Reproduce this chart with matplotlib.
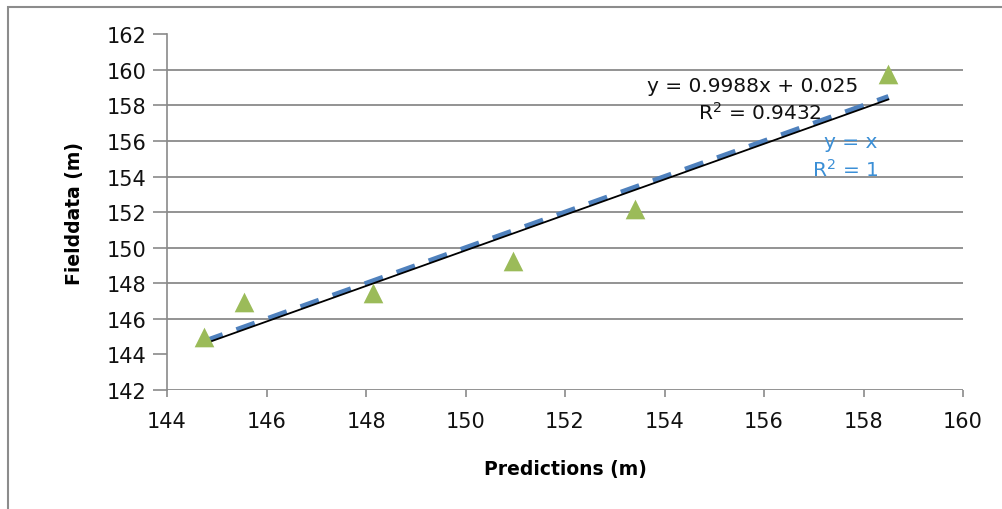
import numpy as np
import matplotlib.pyplot as plt
from matplotlib.patches import Rectangle

# values
predictions = [144.75, 145.55, 148.15, 150.95, 153.4, 158.5]
field_data = [145.0, 146.95, 147.45, 149.25, 152.2, 159.75]
slope, intercept = 0.9988, 0.025
x_ticks = [144, 146, 148, 150, 152, 154, 156, 158, 160]
y_ticks = [142, 144, 146, 148, 150, 152, 154, 156, 158, 160, 162]
grid_levels = [142, 146, 148, 150, 152, 154, 156, 158, 160]

plt.rcParams['font.family'] = ['DejaVu Sans']

fig = plt.figure(figsize=(10.02, 5.1), dpi=100)
ax = fig.add_axes([0.1667, 0.2333, 0.7944, 0.6977])

# frame around the whole chart
fig.patches.append(Rectangle((0.008, -0.01), 1.1, 0.995, transform=fig.transFigure,
                             fill=False, edgecolor='#8c8c8c', linewidth=1.5))

for g in grid_levels:
    ax.axhline(g, color='#8a8a8a', linewidth=1.3, zorder=0)

# y = x reference line and the fitted trendline
x_fit = np.array([min(predictions), max(predictions)])
ax.plot(x_fit, x_fit, color='#4f81bd', linewidth=3.5, dashes=(4, 3), zorder=2)
ax.plot(x_fit, slope * x_fit + intercept, color='black', linewidth=1.3, zorder=3)
ax.scatter(predictions, field_data, marker='^', s=200, color='#9bbb59', zorder=4,
           linewidths=0)

ax.text(753, 87, 'y = 0.9988x + 0.025', transform=None, fontsize=14.5,
        ha='center', va='center', color='#111111')
ax.text(760, 113, 'R$^2$ = 0.9432', transform=None, fontsize=14.5,
        ha='center', va='center', color='#111111')
ax.text(851, 143, 'y = x', transform=None, fontsize=14.5,
        ha='center', va='center', color='#3b8fd6')
ax.text(845, 170, 'R$^2$ = 1', transform=None, fontsize=14.5,
        ha='center', va='center', color='#3b8fd6')

ax.set_xlim(144, 160)
ax.set_ylim(142, 162)
ax.set_xticks(x_ticks)
ax.set_yticks(y_ticks)
ax.tick_params(axis='both', labelsize=15, colors='#8a8a8a', labelcolor='#111111')
ax.tick_params(axis='y', length=10, width=1.2, pad=5)
ax.tick_params(axis='x', length=5, width=1.2, pad=10)

for side in ['top', 'right', 'bottom']:
    ax.spines[side].set_visible(False)
ax.spines['left'].set_color('#8a8a8a')
ax.spines['left'].set_linewidth(1.2)

ax.set_xlabel('Predictions (m)', fontsize=13.5, fontweight='bold', labelpad=20)
ax.set_ylabel('Fielddata (m)', fontsize=13.5, fontweight='bold', labelpad=16)

# text positions above are in display pixels measured from the top
for t in ax.texts:
    x, y = t.get_position()
    t.set_position((x, 510 - y))

fig.savefig('out.png', dpi=100)
